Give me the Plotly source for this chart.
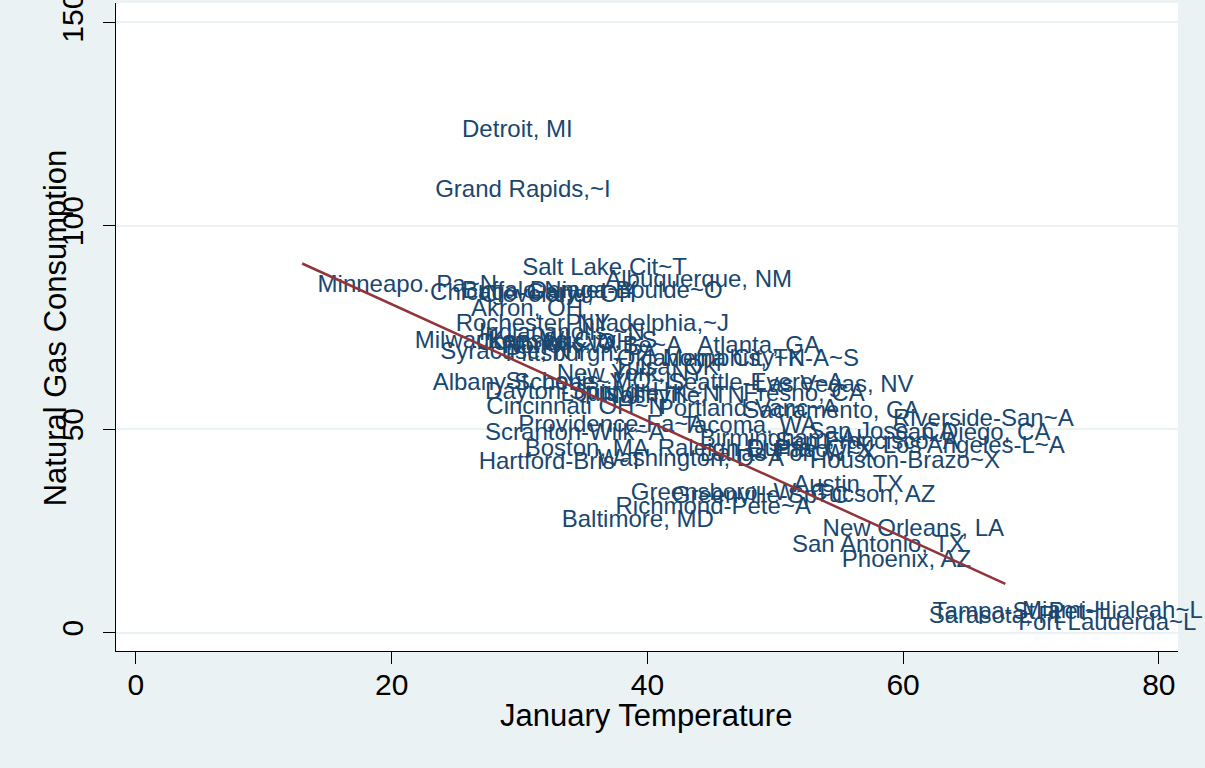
import plotly.graph_objects as go

cities = [
    "Detroit, MI", "Grand Rapids,~I", "Salt Lake Cit~T", "Albuquerque, NM", "Minneapo. Pa~N",
    "Chicago-Gary-~I", "Buffalo-Niaga~Y", "Cleveland, OH", "Denver-Boulde~O", "Akron, OH",
    "Rochester, NY", "Philadelphia,~J", "Indianapolis,~N", "Milwaukee, WI", "Kansas City, ~S",
    "Columbus, OH", "Norfolk-VA Be~A", "Atlanta, GA", "Syracuse, NY", "Pittsburgh, PA",
    "Oklahoma City~K", "Memphis, TN-A~S", "Tulsa, OK", "New York, NY", "Albany-Schene~Y",
    "St. Louis, MO~L", "Seattle-Evere~A", "Las Vegas, NV", "Dayton-Spring~H", "Louisville, K~N",
    "Nashville, TN", "Fresno, CA", "Cincinnati OH~N", "Portland-Vanc~A", "Sacramento, CA",
    "Riverside-San~A", "Providence-Fa~A", "Tacoma, WA", "San Jose, CA", "San Diego, CA",
    "Scranton-Wilk~A", "Birmingham, AL", "San Francisco~A", "Los Angeles-L~A", "Boston, MA",
    "Raleigh-Durha~C", "El Paso, TX", "Washington, D~A", "Hartford-Bris~T", "Houston-Brazo~X",
    "Dallas-Fort W~X", "Austin, TX", "Greensboro--W~C", "Greenville-Sp~C", "Tucson, AZ",
    "Richmond-Pete~A", "Baltimore, MD", "New Orleans, LA", "San Antonio, TX", "Phoenix, AZ",
    "Tampa-St. Pet~L", "Miami-Hialeah~L", "Sarasota, FL", "Fort Lauderda~L",
]

jan_temp = [
    24.4, 22.3, 29.1, 35.6, 13.1,
    21.9, 24.4, 25.8, 29.7, 25.1,
    23.9, 32.5, 25.7, 20.7, 26.4,
    25.5, 27.6, 42.8, 22.7, 27.8,
    36.5, 40.1, 36.2, 31.8, 22.1,
    27.8, 40.5, 47.3, 26.2, 32.1,
    35.4, 46.4, 26.3, 39.7, 46.4,
    58.1, 28.8, 41.6, 51.5, 58.0,
    26.2, 43.0, 48.9, 57.3, 29.3,
    39.7, 46.6, 35.0, 25.7, 51.6,
    43.0, 50.3, 37.6, 40.8, 52.0,
    36.4, 32.2, 52.6, 50.2, 54.1,
    61.2, 68.2, 60.9, 67.9,
]

gas_cons = [
    123.2, 108.4, 89.4, 86.5, 85.1,
    83.1, 83.8, 82.8, 83.6, 79.4,
    75.5, 75.7, 73.5, 71.3, 71.3,
    71.0, 70.1, 70.3, 68.8, 68.3,
    67.1, 67.1, 64.9, 63.2, 61.2,
    61.4, 61.2, 60.5, 59.0, 58.5,
    57.8, 58.5, 55.3, 54.6, 54.1,
    52.3, 50.9, 50.6, 49.1, 48.7,
    48.7, 47.4, 46.7, 45.7, 45.0,
    45.0, 44.7, 42.5, 41.8, 42.0,
    43.7, 36.1, 34.1, 33.4, 33.6,
    30.7, 27.5, 25.3, 21.3, 17.7,
    4.9, 5.1, 3.9, 2.2,
]

# Fitted (linear prediction) line at its two ends
fit_temp = [13.0, 68.0]
fit_gas = [90.7, 12.0]

x_ticks = [0, 20, 40, 60, 80]
y_ticks = [0, 50, 100, 150]
x_title = "January Temperature"
y_title = "Natural Gas Consumption"

FONT = "Arial, Liberation Sans, Helvetica, sans-serif"
LABEL_COLOR = "#1a476f"

fig = go.Figure()
fig.add_trace(go.Scatter(
    x=jan_temp, y=gas_cons, text=cities, mode="markers+text",
    textposition="middle right",
    marker=dict(size=21, color="rgba(0,0,0,0)"),
    textfont=dict(family=FONT, size=24, color=LABEL_COLOR),
    showlegend=False, cliponaxis=False, hoverinfo="text",
))
fig.add_trace(go.Scatter(
    x=fit_temp, y=fit_gas, mode="lines",
    line=dict(color="#90353b", width=2.5),
    showlegend=False,
))

fig.update_layout(
    width=1205, height=768,
    paper_bgcolor="#eaf2f3", plot_bgcolor="white",
    margin=dict(l=116, r=27, t=3, b=117, autoexpand=False),
    font=dict(family=FONT, color="black"),
    showlegend=False,
    annotations=[
        dict(text=x_title, xref="paper", yref="paper", x=0.4995, y=-0.1003,
             xanchor="center", yanchor="middle", showarrow=False,
             font=dict(size=31, color="black", family=FONT)),
        dict(text=y_title, xref="paper", yref="paper", x=-0.0574, y=0.498,
             xanchor="center", yanchor="middle", showarrow=False, textangle=-90,
             font=dict(size=31, color="black", family=FONT)),
    ],
)
fig.update_xaxes(
    range=[-1.56, 81.5], tickvals=x_ticks, ticktext=[str(v) for v in x_ticks],
    ticks="outside", ticklen=12, tickwidth=1, tickcolor="black",
    ticklabelstandoff=-5,
    showline=True, linecolor="black", linewidth=1,
    showgrid=False, zeroline=False, automargin=False,
    tickfont=dict(size=30, color="black"),
)
fig.update_yaxes(
    range=[-4.5, 154.7], tickvals=y_ticks, ticktext=[str(v) for v in y_ticks],
    ticks="outside", ticklen=12, tickwidth=1, tickcolor="black", tickangle=-90,
    ticklabeloverflow="allow", ticklabelstandoff=8,
    showline=True, linecolor="black", linewidth=1,
    showgrid=True, gridcolor="#eaf2f3", gridwidth=1.5, zeroline=False, automargin=False,
    tickfont=dict(size=30, color="black"),
)

fig.write_html(
    "out.html",
    config={"displayModeBar": False},
    post_script="document.body.style.margin='0';document.documentElement.style.overflow='hidden';",
)
